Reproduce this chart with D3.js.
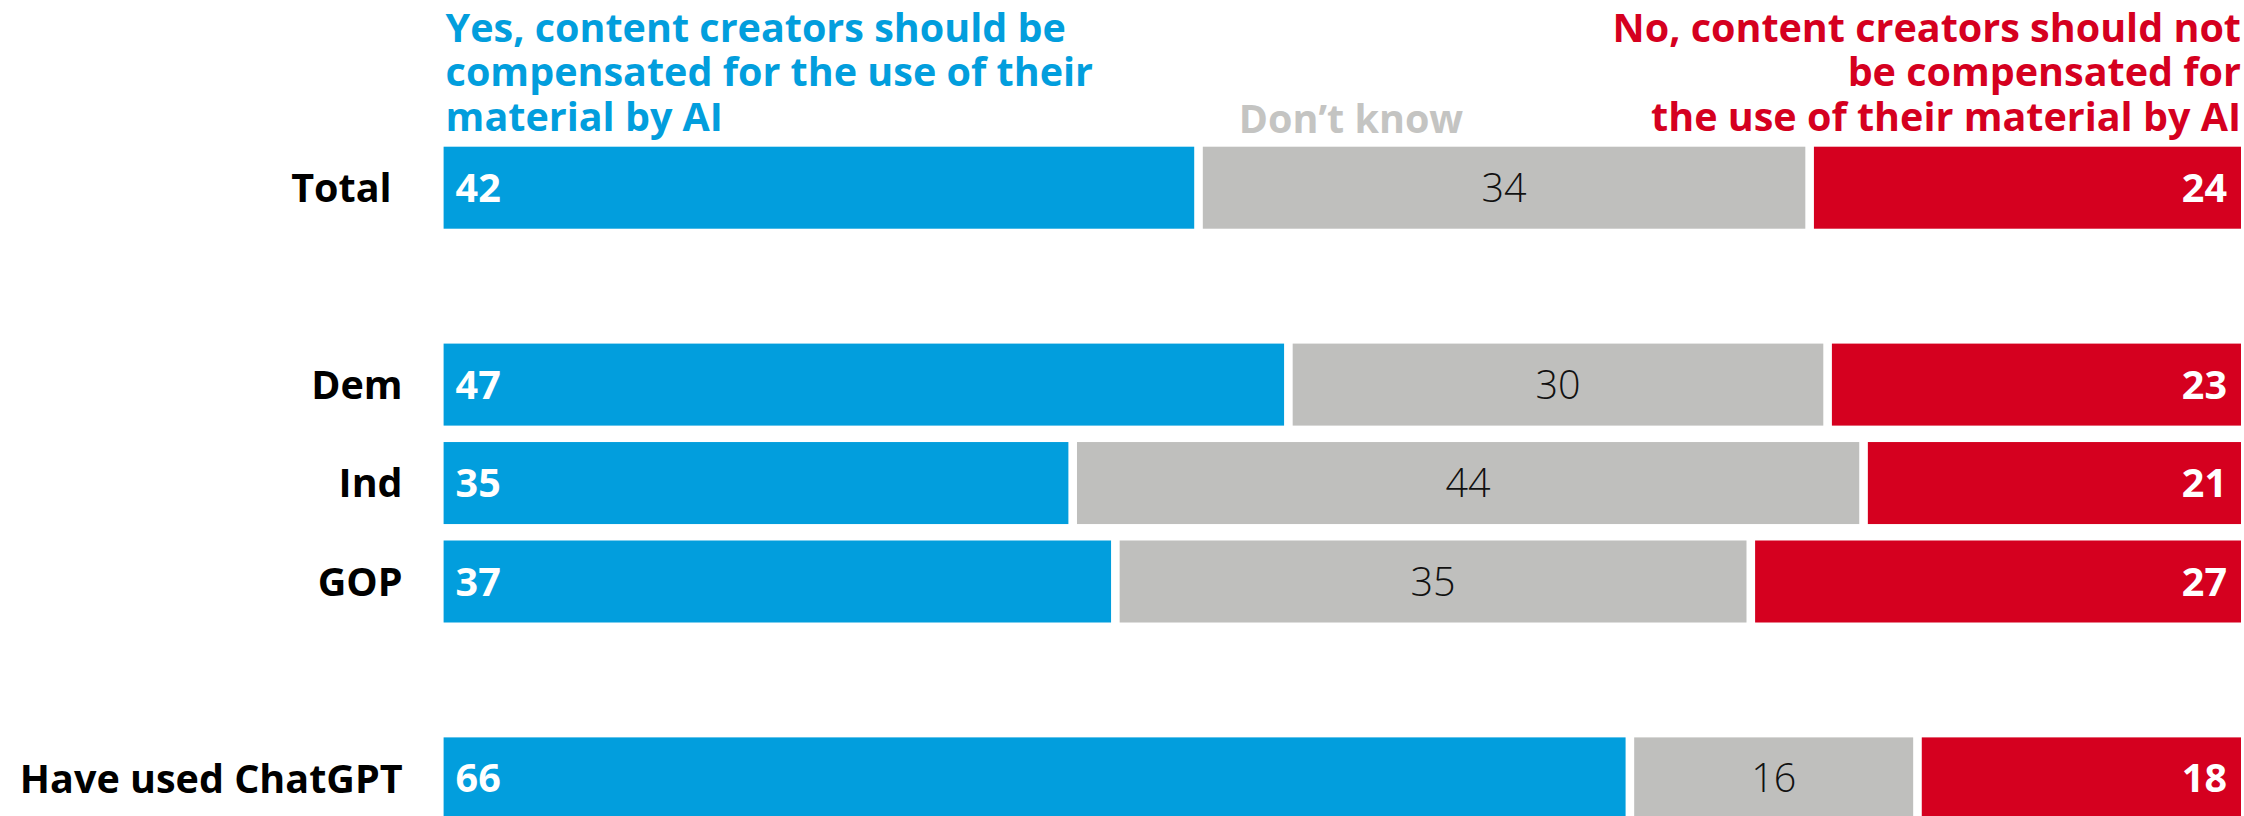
<!DOCTYPE html>
<html>
<head>
<meta charset="utf-8">
<script src="https://cdn.jsdelivr.net/npm/d3@7"></script>
<style>
  html, body { margin: 0; padding: 0; background: #ffffff; }
  svg { display: block; }
  text { font-family: "Open Sans", "Noto Sans", "DejaVu Sans", sans-serif; }
</style>
</head>
<body>
<svg id="chart" width="2244" height="816"></svg>
<script>
// ---------- data ----------
const groups = [["Total"], ["Dem", "Ind", "GOP"], ["Have used ChatGPT"]];
const categories = ["Total", "Dem", "Ind", "GOP", "Have used ChatGPT"];
const seriesKeys = ["yes", "dontKnow", "no"];
const yesValues = [42, 47, 35, 37, 66];
const dontKnowValues = [34, 30, 44, 35, 16];
const noValues = [24, 23, 21, 27, 18];
const legendYes = ["Yes, content creators should be", "compensated for the use of their", "material by AI"];
const legendDontKnow = ["Don\u2019t know"];
const legendNo = ["No, content creators should not", "be compensated for", "the use of their material by AI"];

// ---------- styles ----------
const colors = { yes: "#029edd", dontKnow: "#bfbfbd", no: "#d5001f" };
const legendTextColors = { yes: "#029edd", dontKnow: "#c4c4c2", no: "#d5001f" };
const fontSize = 39.5;
const labelFontSize = 39.5;
const gap = 4.3;

const svg = d3.select("#chart");

// y domain with spacer slots between groups
const yDomain = [];
groups.forEach((g, i) => {
  if (i > 0) yDomain.push("__gap" + i);
  g.forEach(c => yDomain.push(c));
});

const y = d3.scaleBand()
  .domain(yDomain)
  .range([146.7, 819.4])
  .paddingInner(0.167)
  .paddingOuter(0);

const x = d3.scaleLinear().domain([0, 1]).range([443.6, 2241]);

const rows = categories.map((c, i) => ({
  category: c,
  yes: yesValues[i],
  dontKnow: dontKnowValues[i],
  no: noValues[i]
}));

const stacked = d3.stack().keys(seriesKeys).offset(d3.stackOffsetExpand)(rows);

const capH = fontSize * 0.714;

// bars
stacked.forEach((layer, li) => {
  const key = layer.key;
  const g = svg.append("g").attr("class", "series-" + key);
  g.selectAll("rect")
    .data(layer)
    .join("rect")
    .attr("x", d => x(d[0]) + (li > 0 ? gap : 0))
    .attr("y", d => y(d.data.category))
    .attr("width", d => x(d[1]) - x(d[0]) - (li > 0 ? gap : 0) - (li < stacked.length - 1 ? gap : 0))
    .attr("height", y.bandwidth())
    .attr("fill", colors[key]);

  // value labels
  g.selectAll("text")
    .data(layer)
    .join("text")
    .attr("x", d => {
      if (key === "yes") return x(d[0]) + 12;
      if (key === "no") return x(d[1]) - 14;
      return (x(d[0]) + x(d[1])) / 2;
    })
    .attr("y", d => y(d.data.category) + y.bandwidth() / 2 + capH / 2)
    .attr("text-anchor", key === "yes" ? "start" : key === "no" ? "end" : "middle")
    .attr("font-size", fontSize)
    .attr("font-weight", key === "dontKnow" ? 300 : 700)
    .attr("fill", key === "dontKnow" ? "#111111" : "#ffffff")
    .text(d => d.data[key]);
});

// category labels
const yAxis = d3.axisLeft(y).tickSize(0).tickPadding(0)
  .tickValues(categories);
const axisG = svg.append("g")
  .attr("transform", `translate(${x(0) - 41},0)`)
  .call(yAxis);
axisG.select(".domain").remove();
axisG.selectAll("text")
  .attr("font-size", labelFontSize)
  .attr("font-weight", 700)
  .attr("fill", "#000000")
  .attr("dy", null)
  .attr("y", labelFontSize * 0.714 / 2)
  .style("font-family", "'Open Sans', 'Noto Sans', sans-serif");
axisG.selectAll(".tick").filter(d => d === "Total").select("text").attr("x", -11);

// legends
const lineH = 44.5;
const firstBaseline = 41.7;
function legend(lines, xPos, anchor, color, cls) {
  svg.append("g").attr("class", cls)
    .selectAll("text")
    .data(lines)
    .join("text")
    .attr("x", xPos)
    .attr("y", (d, i) => firstBaseline + i * lineH)
    .attr("text-anchor", anchor)
    .attr("font-size", fontSize)
    .attr("font-weight", 700)
    .attr("fill", color)
    .text(d => d);
}
legend(legendYes, x(0) + 2, "start", legendTextColors.yes, "legend-yes");
legend(legendNo, x(1), "end", legendTextColors.no, "legend-no");
svg.append("text")
  .attr("x", 1351)
  .attr("y", firstBaseline + 2 * lineH + 2)
  .attr("text-anchor", "middle")
  .attr("font-size", fontSize)
  .attr("font-weight", 700)
  .attr("fill", legendTextColors.dontKnow)
  .text(legendDontKnow[0]);
</script>
</body>
</html>
